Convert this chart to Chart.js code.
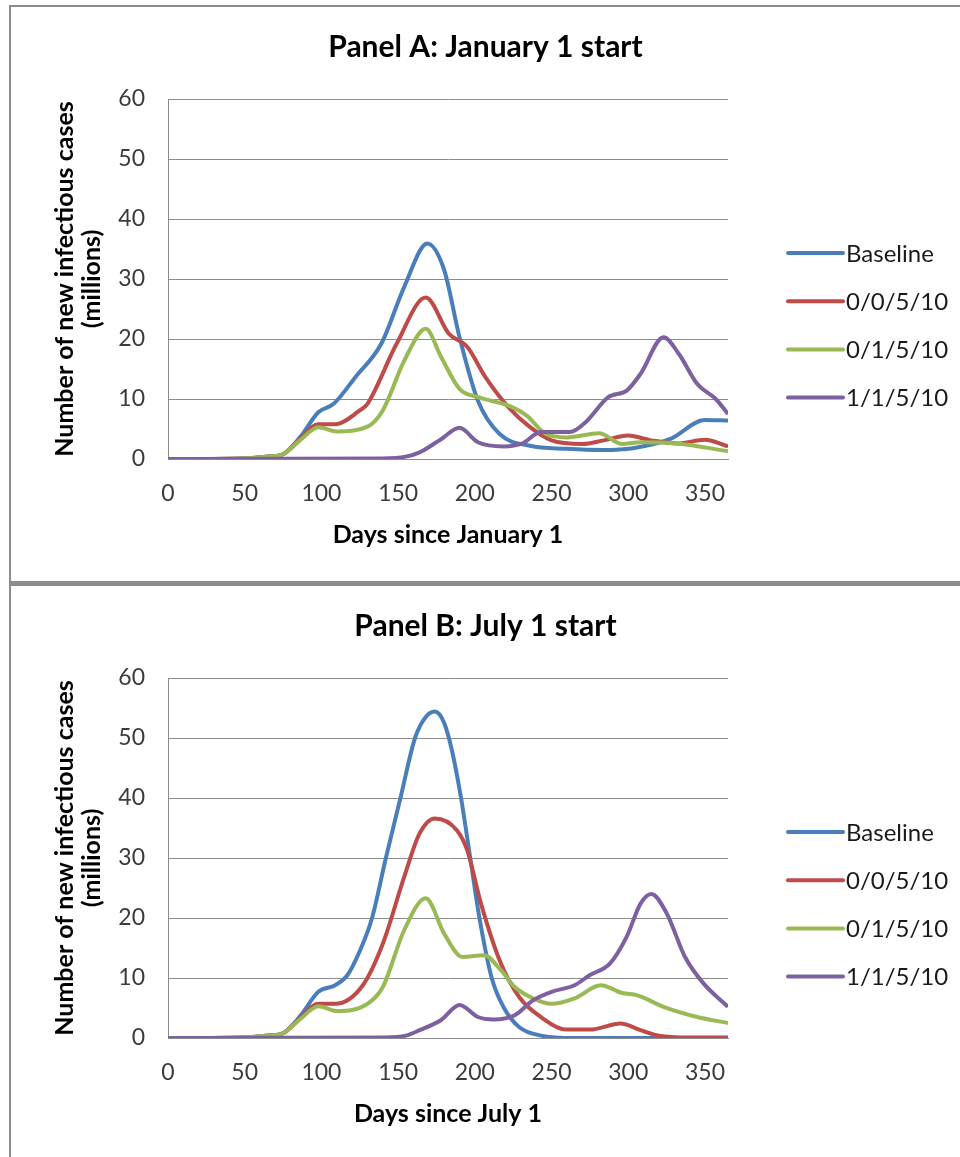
<!DOCTYPE html>
<html>
<head>
<meta charset="utf-8">
<script src="https://cdn.jsdelivr.net/npm/chart.js@4"></script>
<style>
  html, body { margin: 0; padding: 0; background: #fff; overflow: hidden; }
  #page { position: relative; width: 960px; height: 1157px; overflow: hidden; }
  .rule { position: absolute; background: #8c8c8c; }
  canvas { position: absolute; left: 11px; }
</style>
</head>
<body>
<div id="page">
  <div class="rule" style="left:9px; top:5px; width:951px; height:2px"></div>
  <div class="rule" style="left:9px; top:5px; width:2px; height:1152px"></div>
  <div class="rule" style="left:9px; top:581px; width:951px; height:5px"></div>
  <canvas id="panelA" width="949" height="574" style="top:7px"></canvas>
  <canvas id="panelB" width="949" height="574" style="top:586px"></canvas>
</div>
<script>
// Datos (dias, millones de casos)
const seriesLabels = ['Baseline', '0/0/5/10', '0/1/5/10', '1/1/5/10'];
const dayTicks = [0, 50, 100, 150, 200, 250, 300, 350];
const caseTicks = [0, 10, 20, 30, 40, 50, 60];

// Panel A: January 1 start
const janBaselineDays  = [0, 50, 65, 75, 86, 98, 108, 122, 139, 154, 169, 180, 190, 202, 216, 236, 260, 284, 303, 327, 350, 365];
const janBaselineCases = [0, 0.1, 0.4, 0.8, 3.6, 7.8, 9.2, 13.6, 19.2, 28.7, 35.9, 31.5, 20.3, 9.7, 4.2, 2.2, 1.7, 1.5, 1.8, 3.3, 6.5, 6.4];
const jan0_0Days  = [0, 50, 65, 75, 86, 98, 109, 125, 130, 149, 168, 183, 195, 207, 222, 236, 250, 270, 284, 300, 315, 332, 350, 365];
const jan0_0Cases = [0, 0.1, 0.4, 0.8, 3.3, 5.8, 5.8, 8.1, 9.2, 19.2, 26.9, 20.9, 18.7, 13.6, 8.6, 5.3, 3.1, 2.5, 3.1, 3.9, 3.1, 2.6, 3.2, 2.1];
const jan0_1Days  = [0, 50, 65, 75, 86, 98, 110, 130, 140, 154, 168, 178, 190, 202, 222, 234, 246, 260, 281, 296, 308, 332, 365];
const jan0_1Cases = [0, 0.1, 0.4, 0.8, 3.1, 5.3, 4.6, 5.4, 8.1, 16.4, 21.7, 17, 11.7, 10.3, 8.9, 7.2, 4.2, 3.6, 4.3, 2.5, 2.8, 2.6, 1.3];
const jan1_1Days  = [0, 140, 155, 164, 178, 190, 202, 219, 231, 243, 262, 272, 287, 299, 308, 323, 333, 345, 357, 365];
const jan1_1Cases = [0, 0.1, 0.4, 1.1, 3.3, 5.2, 2.8, 2.1, 2.6, 4.5, 4.5, 6.1, 10.3, 11.4, 14.2, 20.3, 17.5, 12.5, 10, 7.5];

// Panel B: July 1 start
const julBaselineDays  = [0, 50, 65, 75, 86, 98, 109, 117, 125, 133, 142, 151.5, 161, 168, 174, 180, 185, 191, 197, 203, 211, 219, 229, 243, 265, 365];
const julBaselineCases = [0, 0.1, 0.4, 0.8, 3.6, 7.7, 8.8, 10.5, 14.5, 20, 30, 40, 50, 53.5, 54.4, 52.5, 48, 40, 30, 20, 10, 5, 1.8, 0.4, 0, 0];
const jul0_0Days  = [0, 50, 65, 75, 86, 98, 109, 127, 140, 154, 164, 174, 188, 195, 204, 217, 229, 243, 260, 275, 295, 308, 320, 340, 365];
const jul0_0Cases = [0, 0.1, 0.4, 0.8, 3.3, 5.7, 5.7, 8.8, 15.7, 26.9, 34.1, 36.6, 34.7, 31.3, 22.4, 12.4, 6.8, 3.5, 1.4, 1.4, 2.4, 1.3, 0.4, 0.1, 0.1];
const jul0_1Days  = [0, 50, 65, 75, 86, 98, 110, 130, 140, 154, 168, 180, 192, 206, 217, 226, 238, 250, 265, 282, 296, 306, 323, 345, 365];
const jul0_1Cases = [0, 0.1, 0.4, 0.8, 3.1, 5.3, 4.5, 5.7, 8.5, 18, 23.3, 17.4, 13.5, 13.8, 11.3, 8.5, 6.6, 5.7, 6.6, 8.8, 7.5, 7.1, 5.2, 3.5, 2.5];
const jul1_1Days  = [0, 140, 155, 164, 178, 190, 202, 212, 226, 238, 250, 265, 275, 288, 299, 308, 315, 325, 337, 349, 365];
const jul1_1Cases = [0, 0.1, 0.4, 1.3, 3.0, 5.5, 3.5, 3.1, 3.8, 6.3, 7.7, 8.8, 10.5, 12.4, 16.9, 22.4, 24, 20.8, 13.5, 9.1, 5.2];

const lineColors = ['#4a7ebb', '#be4b48', '#98b954', '#7d60a0'];
const gridColor = '#8c8c8c';

Chart.defaults.font.family = 'Lato, "Open Sans", sans-serif';

// Leyenda a la derecha, con la linea pegada al texto como en Excel
const lineLegend = {
    id: 'lineLegend',
    afterDraw(chart) {
        const { ctx, chartArea } = chart;
        ctx.save();
        ctx.font = '24px Lato';
        ctx.textBaseline = 'middle';
        ctx.fillStyle = '#1a1a1a';
        chart.data.datasets.forEach((ds, i) => {
            const y = chartArea.top + 154 + i * 48.2;
            const x0 = chartArea.right + 60;
            ctx.strokeStyle = ds.borderColor;
            ctx.lineWidth = 4;
            ctx.lineCap = 'round';
            ctx.beginPath();
            ctx.moveTo(x0, y);
            ctx.lineTo(x0 + 55, y);
            ctx.stroke();
            ctx.fillText(ds.label, x0 + 58, y + 1);
        });
        ctx.restore();
    }
};

function toPoints(days, cases) {
    return days.map((d, i) => ({ x: d, y: cases[i] }));
}

function makePanel(canvasId, titleText, xTitleText, daysList, casesList) {
    const ctx = document.getElementById(canvasId).getContext('2d');
    return new Chart(ctx, {
        type: 'line',
        data: {
            datasets: seriesLabels.map((label, i) => ({
                label: label,
                data: toPoints(daysList[i], casesList[i]),
                borderColor: lineColors[i],
                backgroundColor: lineColors[i],
                borderWidth: 4,
                pointRadius: 0,
                cubicInterpolationMode: 'monotone',
                fill: false,
                order: seriesLabels.length - i
            }))
        },
        options: {
            responsive: false,
            animation: false,
            events: [],
            scales: {
                x: {
                    type: 'linear',
                    min: 0,
                    max: 365,
                    afterBuildTicks: (s) => { s.ticks = dayTicks.map(v => ({ value: v })); },
                    afterFit: (s) => { s.height = 122; },
                    grid: { display: false, drawTicks: false },
                    border: { display: true, color: gridColor, width: 1 },
                    ticks: { padding: 21, color: '#3b3b3b', font: { size: 23 } },
                    title: {
                        display: true,
                        text: xTitleText,
                        color: '#000',
                        font: { size: 25, weight: 'bold' },
                        padding: { top: 0, bottom: 31 }
                    }
                },
                y: {
                    type: 'linear',
                    min: 0,
                    max: 60,
                    afterBuildTicks: (s) => { s.ticks = caseTicks.map(v => ({ value: v })); },
                    afterFit: (s) => { s.width = 157; },
                    grid: { color: gridColor, lineWidth: 1, drawTicks: false },
                    border: { display: true, color: gridColor, width: 1 },
                    ticks: { padding: 23, color: '#3b3b3b', font: { size: 23 } },
                    title: {
                        display: true,
                        text: ['Number of new infectious cases', '(millions)'],
                        color: '#000',
                        font: { size: 25, weight: 'bold', lineHeight: 1.1 },
                        padding: { top: 40, bottom: 0 }
                    }
                },
                // eje vacio a la derecha: reserva el hueco de la leyenda
                legendSpace: {
                    type: 'linear',
                    position: 'right',
                    afterFit: (s) => { s.width = 232; },
                    grid: { display: false },
                    border: { display: false },
                    ticks: { display: false }
                }
            },
            plugins: {
                legend: { display: false },
                tooltip: { enabled: false },
                title: {
                    display: true,
                    text: titleText,
                    color: '#000',
                    font: { size: 30, weight: 'bold' },
                    padding: { top: 22, bottom: 34 }
                }
            }
        },
        plugins: [lineLegend]
    });
}

makePanel('panelA', 'Panel A: January 1 start', 'Days since January 1',
    [janBaselineDays, jan0_0Days, jan0_1Days, jan1_1Days],
    [janBaselineCases, jan0_0Cases, jan0_1Cases, jan1_1Cases]);

makePanel('panelB', 'Panel B: July 1 start', 'Days since July 1',
    [julBaselineDays, jul0_0Days, jul0_1Days, jul1_1Days],
    [julBaselineCases, jul0_0Cases, jul0_1Cases, jul1_1Cases]);
</script>
</body>
</html>
